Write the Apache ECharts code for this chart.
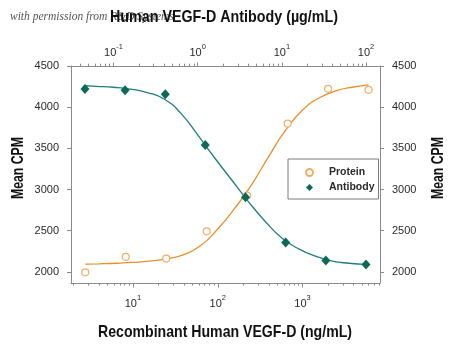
<!DOCTYPE html>
<html>
<head>
<meta charset="utf-8">
<script src="https://cdn.jsdelivr.net/npm/echarts@6/dist/echarts.min.js"></script>
<style>
html,body{margin:0;padding:0;background:#fff;}
#c{width:450px;height:347px;}
</style>
</head>
<body>
<div id="c"></div>
<script>
// ---- data ----
const proteinConc = [2.74, 8.23, 24.7, 74.1, 222, 667, 2000, 6000];          // ng/mL
const proteinCPM  = [1995, 2183, 2162, 2492, 2927, 3801, 4223, 4211];
const antibodyConc = [0.0457, 0.137, 0.412, 1.23, 3.70, 11.1, 33.3, 100];    // µg/mL
const antibodyCPM  = [4222, 4207, 4158, 3540, 2906, 2357, 2138, 2090];

const proteinFitConc = [2.74, 3.98, 6.31, 10, 15.8, 25.1, 39.8, 63.1, 100, 158, 251, 398, 631, 1000, 1585, 2512, 3981, 6000];
const proteinFitCPM  = [2094, 2098, 2105, 2115, 2130, 2158, 2210, 2320, 2520, 2770, 3060, 3400, 3720, 3965, 4115, 4200, 4245, 4272];
const antibodyFitConc = [0.0457, 0.063, 0.1, 0.158, 0.251, 0.398, 0.631, 1, 1.585, 2.51, 3.98, 6.31, 10, 15.85, 25.1, 39.8, 63.1, 100];
const antibodyFitCPM  = [4260, 4253, 4242, 4220, 4178, 4100, 3925, 3663, 3386, 3122, 2856, 2615, 2410, 2279, 2191, 2130, 2105, 2090];

const bottomMajor = [10, 100, 1000];
const bottomMinor = [2,3,4,5,6,7,8,9,20,30,40,50,60,70,80,90,200,300,400,500,600,700,800,900,2000,3000,4000,5000,6000,7000,8000];
const topMajor = [0.1, 1, 10, 100];
const topMinor = [0.04,0.05,0.06,0.07,0.08,0.09,0.2,0.3,0.4,0.5,0.6,0.7,0.8,0.9,2,3,4,5,6,7,8,9,20,30,40,50,60,70,80,90];
const yTicks = [2000, 2500, 3000, 3500, 4000, 4500];

const legendNames = ['Protein', 'Antibody'];
const topTitle = 'Human VEGF-D Antibody (µg/mL)';
const bottomTitle = 'Recombinant Human VEGF-D (ng/mL)';
const yTitle = 'Mean CPM';
const watermark = 'with permission from R&D Systems';

// ---- styling ----
const FONT = "'Liberation Sans', Arial, sans-serif";
const AXIS_COLOR = '#8a8a8a';
const TEXT_COLOR = '#2a2a2a';
const ORANGE_LINE = '#e8902a';
const ORANGE_PT = '#f0ae66';
const TEAL_LINE = '#237d7c';
const TEAL_PT = '#0b6a57';

function pow10Label(v) {
  const e = Math.round(Math.log10(v));
  return '{b|10}{s|' + e + '}';
}
const powRich = {
  b: { fontSize: 11, fontFamily: FONT, color: TEXT_COLOR, lineHeight: 15, verticalAlign: 'bottom' },
  s: { fontSize: 7.5, fontFamily: FONT, color: TEXT_COLOR, lineHeight: 15, verticalAlign: 'top' }
};

function zip(a, b) { return a.map((v, i) => [v, b[i]]); }

function titleText(text, x, y, rot, sx) {
  return {
    type: 'text', x: x, y: y, rotation: rot, scaleX: sx, silent: true, z: 10,
    style: {
      text: text, fill: '#111', font: "bold 17px 'Liberation Sans', Arial, sans-serif",
      align: 'center', verticalAlign: 'middle'
    }
  };
}

const bMin = 1.86, bMax = 8185, tMin = 0.0312, tMax = 146.7;

const option = {
  animation: false,
  textStyle: { fontFamily: FONT },
  grid: { left: 71, right: 70, top: 66, bottom: 64, containLabel: false, outerBoundsMode: 'none' },
  graphic: [
    {
      type: 'text', x: 10, y: 11, z: 1, silent: true,
      style: { text: watermark, font: "italic 11.5px 'Liberation Serif', serif", fill: '#555' }
    },
    titleText(topTitle, 224, 17, 0, 0.84),
    titleText(bottomTitle, 225, 332, 0, 0.83),
    titleText(yTitle, 18, 168, Math.PI / 2, 0.72),
    titleText(yTitle, 438, 168, Math.PI / 2, 0.72)
  ],
  legend: {
    data: legendNames,
    orient: 'vertical',
    left: 288, top: 159,
    padding: [8, 4, 6, 17],
    itemGap: 4,
    itemWidth: 7, itemHeight: 7,
    borderColor: '#7a7a7a', borderWidth: 1, borderRadius: 0,
    backgroundColor: '#fff',
    textStyle: { fontSize: 10.5, fontWeight: 'bold', fontFamily: FONT, color: TEXT_COLOR, padding: [0, 0, 0, 11] }
  },
  xAxis: [
    {
      type: 'log', logBase: 10, position: 'bottom', min: bMin, max: bMax,
      axisLine: { show: true, lineStyle: { color: AXIS_COLOR, width: 1 } },
      axisTick: { show: true, inside: false, length: 4.5, customValues: bottomMajor, lineStyle: { color: AXIS_COLOR } },
      axisLabel: { customValues: bottomMajor, margin: 11, formatter: pow10Label, rich: powRich },
      splitLine: { show: false }, minorTick: { show: false }
    },
    {
      type: 'log', logBase: 10, position: 'bottom', min: bMin, max: bMax,
      axisLine: { show: false },
      axisTick: { show: true, inside: false, length: 2.5, customValues: bottomMinor, lineStyle: { color: AXIS_COLOR } },
      axisLabel: { show: false }, splitLine: { show: false }
    },
    {
      type: 'log', logBase: 10, position: 'top', min: tMin, max: tMax,
      axisLine: { show: true, lineStyle: { color: AXIS_COLOR, width: 1 } },
      axisTick: { show: true, inside: false, length: 3.5, customValues: topMajor, lineStyle: { color: AXIS_COLOR } },
      axisLabel: { customValues: topMajor, margin: 8, formatter: pow10Label, rich: powRich },
      splitLine: { show: false }
    },
    {
      type: 'log', logBase: 10, position: 'top', min: tMin, max: tMax,
      axisLine: { show: false },
      axisTick: { show: true, inside: false, length: 2.3, customValues: topMinor, lineStyle: { color: AXIS_COLOR } },
      axisLabel: { show: false }, splitLine: { show: false }
    }
  ],
  yAxis: [
    {
      type: 'value', position: 'left', min: 1865, max: 4500,
      axisLine: { show: true, lineStyle: { color: AXIS_COLOR, width: 1 } },
      axisTick: { show: true, inside: false, length: 4, customValues: yTicks, lineStyle: { color: AXIS_COLOR } },
      axisLabel: { customValues: yTicks, margin: 12, fontSize: 11, color: TEXT_COLOR, fontFamily: FONT, formatter: v => String(v) },
      splitLine: { show: false }
    },
    {
      type: 'value', position: 'right', min: 1865, max: 4500,
      axisLine: { show: true, lineStyle: { color: AXIS_COLOR, width: 1 } },
      axisTick: { show: true, inside: false, length: 4, customValues: yTicks, lineStyle: { color: AXIS_COLOR } },
      axisLabel: { customValues: yTicks, margin: 12, fontSize: 11, color: TEXT_COLOR, fontFamily: FONT, formatter: v => String(v) },
      splitLine: { show: false }
    }
  ],
  series: [
    {
      name: 'Protein fit', type: 'line', xAxisIndex: 0, yAxisIndex: 0,
      data: zip(proteinFitConc, proteinFitCPM),
      showSymbol: false, symbol: 'none', smooth: 0.5,
      lineStyle: { color: ORANGE_LINE, width: 1.3 }, z: 2
    },
    {
      name: 'Antibody fit', type: 'line', xAxisIndex: 2, yAxisIndex: 0,
      data: zip(antibodyFitConc, antibodyFitCPM),
      showSymbol: false, symbol: 'none', smooth: 0.5,
      lineStyle: { color: TEAL_LINE, width: 1.3 }, z: 2
    },
    {
      name: 'Protein', type: 'scatter', xAxisIndex: 0, yAxisIndex: 0,
      data: zip(proteinConc, proteinCPM),
      symbol: 'circle', symbolSize: 7,
      itemStyle: { color: '#ffffff', borderColor: ORANGE_PT, borderWidth: 1.2, opacity: 1 }, z: 3
    },
    {
      name: 'Antibody', type: 'scatter', xAxisIndex: 2, yAxisIndex: 0,
      data: zip(antibodyConc, antibodyCPM),
      symbol: 'diamond', symbolSize: [9, 10],
      itemStyle: { color: TEAL_PT, opacity: 1 }, z: 4
    }
  ]
};

const chart = echarts.init(document.getElementById('c'), null, { renderer: 'canvas' });
chart.setOption(option);
</script>
</body>
</html>
